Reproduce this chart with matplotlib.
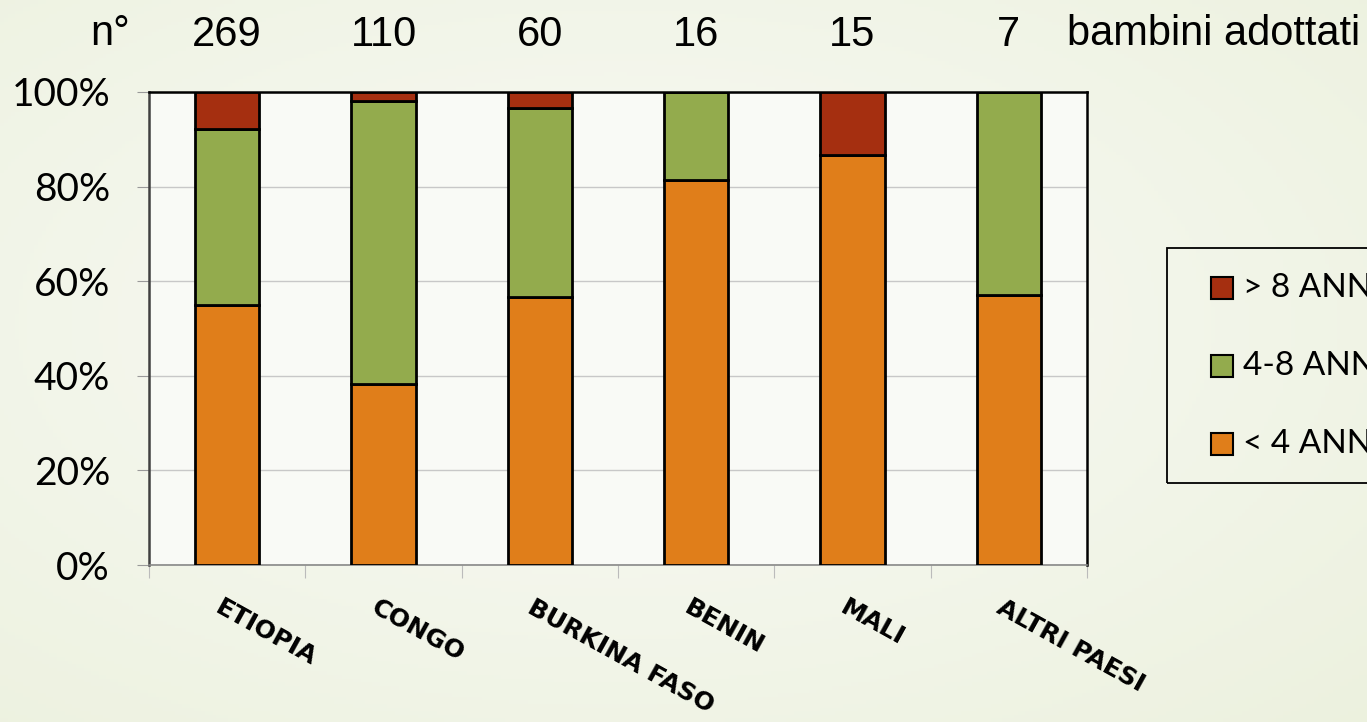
import matplotlib
matplotlib.use("Agg")
import matplotlib.pyplot as plt
from matplotlib.patches import Rectangle
import numpy as np

categories = ["ETIOPIA", "CONGO", "BURKINA FASO", "BENIN", "MALI", "ALTRI PAESI"]
counts = [269, 110, 60, 16, 15, 7]
under4 = [55.0, 38.2, 56.7, 81.3, 86.7, 57.1]
from4to8 = [37.2, 60.0, 40.0, 18.7, 0.0, 42.9]
over8 = [7.8, 1.8, 3.3, 0.0, 13.3, 0.0]
series_labels = ["< 4 ANNI", "4-8 ANNI", "> 8 ANNI"]
colors = ["#E07E1A", "#93AB4D", "#A52F10"]

W, H = 1367, 722
fig = plt.figure(figsize=(W / 100, H / 100), dpi=100)
fig.patch.set_facecolor("#f1f4e6")
# soft radial background
yy, xx = np.mgrid[0:1:200j, 0:1:360j]
r = np.sqrt(((xx - 0.45) / 0.8) ** 2 + ((yy - 0.45) / 0.8) ** 2)
bg = np.clip(r, 0, 1)
c0 = np.array([0.978, 0.98, 0.965])
c1 = np.array([0.925, 0.945, 0.87])
img = c0[None, None, :] * (1 - bg[..., None]) + c1[None, None, :] * bg[..., None]
bgax = fig.add_axes([0, 0, 1, 1])
bgax.imshow(img, aspect="auto", extent=[0, 1, 0, 1])
bgax.set_xlim(0, 1)
bgax.set_ylim(0, 1)
bgax.axis("off")

left, right, top, bottom = 149, 1087, 92, 565
ax = fig.add_axes([left / W, 1 - bottom / H, (right - left) / W, (bottom - top) / H])
ax.set_facecolor("#f9faf6")

x = np.arange(len(categories))
width = 0.41
ax.bar(x, under4, width, color=colors[0], edgecolor="black", linewidth=2, zorder=3)
ax.bar(x, from4to8, width, bottom=under4, color=colors[1], edgecolor="black", linewidth=2, zorder=3)
bot3 = [a + b for a, b in zip(under4, from4to8)]
ax.bar(x, over8, width, bottom=bot3, color=colors[2], edgecolor="black", linewidth=2, zorder=3)

ax.set_xlim(-0.5, len(categories) - 0.5)
ax.set_ylim(0, 100)
ax.set_yticks(np.arange(0, 101, 20))
ax.set_yticklabels([f"{v}%" for v in range(0, 101, 20)], fontsize=28, family="Lato")
ax.yaxis.grid(True, color="#c8c8c8", linewidth=1.0, zorder=0)
ax.tick_params(axis="y", length=9, color="#999999", pad=19)
ax.set_xticks(np.arange(-0.5, len(categories) + 0.5, 1))
ax.set_xticklabels([])
ax.tick_params(axis="x", length=9, color="#bbbbbb", direction="out")
for s in ["top", "right"]:
    ax.spines[s].set_color("black")
    ax.spines[s].set_linewidth(1.8)
ax.spines["left"].set_color("#404040")
ax.spines["left"].set_linewidth(1.8)
ax.spines["bottom"].set_color("#888888")
ax.spines["bottom"].set_linewidth(1.2)

for i, cat in enumerate(categories):
    ax.text(i - 0.03, -0.064, cat, transform=ax.get_xaxis_transform(), rotation=-29,
            rotation_mode="anchor", ha="left", va="top", fontsize=18, fontweight="bold",
            family="DejaVu Sans")

# counts on top
ytop = 1 - 34 / H
fig.text(110 / W, ytop, "n°", fontsize=30, family="Liberation Sans", ha="center", va="center")
for i, n in enumerate(counts):
    ax.text(i, 1.12, str(n), transform=ax.get_xaxis_transform(), fontsize=30,
            family="Liberation Sans", ha="center", va="center")
fig.text(1067 / W, ytop, "bambini adottati", fontsize=30, family="Liberation Sans",
         ha="left", va="center")

# legend (drawn in figure pixel coordinates)
def fx(px):
    return px / W

def fy(py):
    return 1 - py / H

frame = Rectangle((fx(1167), fy(483)), fx(1500) - fx(1167), fy(248) - fy(483),
                  transform=fig.transFigure, facecolor="none", edgecolor="black",
                  linewidth=1.3, clip_on=False)
fig.add_artist(frame)
row_y = [288, 366, 444]
order = [2, 1, 0]
for ry, idx in zip(row_y, order):
    sq = Rectangle((fx(1211), fy(ry + 11)), fx(22), 22 / H, transform=fig.transFigure,
                   facecolor=colors[idx], edgecolor="black", linewidth=1.5)
    fig.add_artist(sq)
    fig.text(fx(1243), fy(ry), series_labels[idx], fontsize=24, family="Lato",
             ha="left", va="center")

fig.savefig("out.png", dpi=100)
